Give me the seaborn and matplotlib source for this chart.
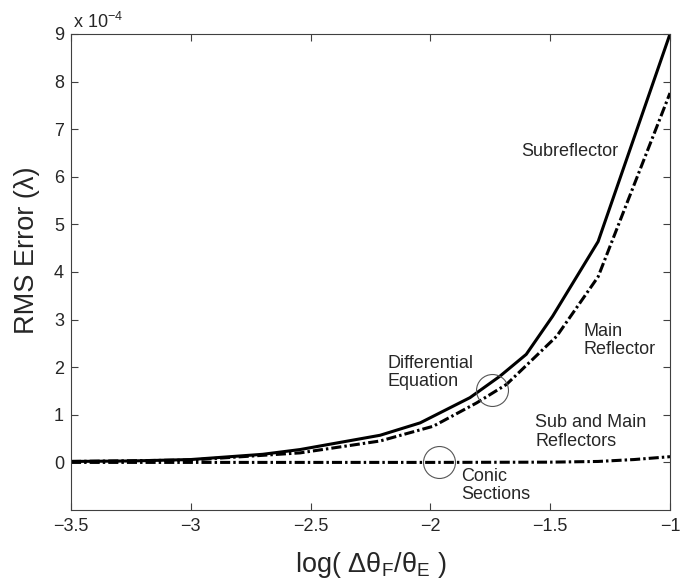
import numpy as np
import pandas as pd
import matplotlib
matplotlib.use("Agg")
import matplotlib.pyplot as plt
import seaborn as sns

# RMS error values in units of 1e-4 wavelengths
sub_x = [-3.5, -3.25, -3.0, -2.7, -2.544, -2.21, -2.043, -1.835, -1.71, -1.6, -1.49, -1.30, -1.0]
sub_y = [0.02, 0.03, 0.06, 0.17, 0.27, 0.57, 0.83, 1.36, 1.81, 2.27, 3.07, 4.64, 9.0]

main_x = [-3.5, -3.0, -2.544, -2.21, -1.988, -1.807, -1.682, -1.473, -1.376, -1.30, -1.0]
main_y = [0.02, 0.05, 0.20, 0.45, 0.76, 1.25, 1.64, 2.65, 3.35, 3.90, 7.76]

conic_x = [-3.5, -3.0, -2.5, -2.0, -1.5, -1.3, -1.15, -1.0]
conic_y = [0.0, 0.0, 0.0, 0.0, 0.005, 0.02, 0.06, 0.12]

x_ticks = [-3.5, -3.0, -2.5, -2.0, -1.5, -1.0]
y_ticks = [0, 1, 2, 3, 4, 5, 6, 7, 8, 9]

sns.set_style("white")
plt.rcParams['font.family'] = ['Liberation Sans', 'DejaVu Sans']
plt.rcParams['mathtext.fontset'] = 'custom'
plt.rcParams['mathtext.rm'] = 'Liberation Sans'
plt.rcParams['mathtext.it'] = 'Liberation Sans'
plt.rcParams['mathtext.default'] = 'regular'

fig = plt.figure(figsize=(6.89, 5.80), dpi=100)
ax = fig.add_axes([71 / 689, 1 - 510 / 580, (670 - 71) / 689, (510 - 34) / 580])

dash_dot = (0, (3.3, 1.0, 0.8, 1.0))
sns.lineplot(x=sub_x, y=sub_y, ax=ax, color='black', lw=2.2, sort=False)
sns.lineplot(x=main_x, y=main_y, ax=ax, color='black', lw=2.2, sort=False, linestyle=dash_dot)
sns.lineplot(x=conic_x, y=conic_y, ax=ax, color='black', lw=2.2, sort=False, linestyle=dash_dot)

# circles marking the two methods
ax.plot([-1.744, -1.963], [1.53, 0.0], 'o', ms=23, mfc='none', mec='#555555', mew=0.8)

fs = 13
ax.text(-1.62, 6.53, 'Subreflector', fontsize=fs, va='center', ha='left')
ax.text(-1.359, 2.56, 'Main\nReflector', fontsize=fs, va='center', ha='left', linespacing=1.1)
ax.text(-2.18, 1.89, 'Differential\nEquation', fontsize=fs, va='center', ha='left', linespacing=1.1)
ax.text(-1.563, 0.64, 'Sub and Main\nReflectors', fontsize=fs, va='center', ha='left', linespacing=1.1)
ax.text(-1.87, -0.48, 'Conic\nSections', fontsize=fs, va='center', ha='left', linespacing=1.1)

ax.set_xlim(-3.5, -1.0)
ax.set_ylim(-1, 9)
ax.set_xticks(x_ticks)
ax.set_xticklabels(['\u22123.5', '\u22123', '\u22122.5', '\u22122', '\u22121.5', '\u22121'])
ax.set_yticks(y_ticks)
ax.tick_params(direction='in', length=5, width=0.8, color='#404040', labelsize=13,
               top=True, right=True, bottom=True, left=True)
ax.tick_params(axis='x', pad=6)
ax.tick_params(axis='y', pad=5)
for s in ax.spines.values():
    s.set_color('#404040')
    s.set_linewidth(0.8)

ax.text(0.003, 1.004, r'x 10$^{-4}$', transform=ax.transAxes, fontsize=13, va='bottom', ha='left')

ax.set_xlabel(r'log( Δθ$_{F}$/θ$_{E}$ )', fontsize=19.5)
ax.set_ylabel('RMS Error (λ)', fontsize=19.5)
ax.xaxis.set_label_coords(0.5, -0.085)
ax.yaxis.set_label_coords(-0.052, 0.546)

fig.savefig('out.png', dpi=100)
